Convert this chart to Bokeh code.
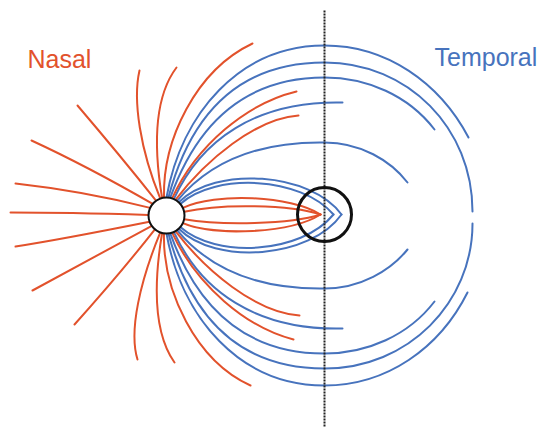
from bokeh.plotting import figure
from bokeh.models import Range1d, ColumnDataSource
from bokeh.core.properties import value
from bokeh.embed import file_html
from bokeh.resources import INLINE

# ---- data (image-pixel coordinates; y grows downward) ----
# each fiber segment: (x0, y0, cx0, cy0, cx1, cy1, x1, y1)
NASAL_LEFT = [
    (163.5, 197.2, 162, 140, 195, 70, 252, 43),
    (161.6, 197.5, 152, 140, 155, 95, 176, 67),
    (159.8, 198.1, 140, 150, 132, 100, 139, 70),
    (155.7, 200.3, 130, 168, 100, 132, 77, 105),
    (152.2, 203.4, 115, 182, 70, 158, 31, 140),
    (149.7, 207.4, 105, 196, 60, 188, 15, 183),
    (148.0, 214.4, 100, 213, 55, 212, 10, 212),
    (149.1, 221.2, 105, 230, 60, 239, 15, 246),
    (151.3, 225.3, 115, 245, 75, 267, 32, 290),
    (154.4, 228.8, 130, 260, 100, 295, 74, 324),
    (159.8, 231.9, 140, 280, 128, 330, 137, 359),
    (161.6, 232.5, 152, 290, 155, 335, 174, 362),
    (163.5, 232.8, 162, 290, 195, 360, 250, 385),
]
NASAL_RIGHT = [
    (171.6, 197.9, 196, 145, 246, 103, 296, 91),
    (175.0, 199.4, 205, 160, 255, 118, 298, 115),
    (182.3, 207.4, 215, 192, 290, 195, 320, 214),
    (183.6, 211.3, 220, 203, 290, 204, 320, 214),
    (183.6, 218.7, 220, 225, 290, 224, 320, 214),
    (182.3, 222.6, 215, 236, 290, 233, 320, 214),
    (175.0, 230.6, 205, 270, 255, 312, 299, 315),
    (171.6, 232.1, 196, 285, 246, 327, 293, 339),
]
TEMPORAL_UPPER = [
    (166.0, 197.0, 181, 113, 239, 45, 324, 45),
    (324, 45, 386, 45, 439, 82, 468, 137),
    (167.9, 197.1, 187, 125, 230, 62, 324, 62),
    (324, 62, 408, 62, 472, 128, 472, 211),
    (169.7, 197.4, 192, 135, 235, 77, 324, 77),
    (324, 77, 366.5, 77, 408, 95, 434, 129),
    (173.3, 198.6, 200, 140, 255, 100, 342, 102),
    (176.6, 200.4, 210, 160, 260, 141, 324, 142),
    (324, 142, 360, 142, 390, 160, 407, 182),
    (178.3, 201.8, 215, 165, 310, 172, 341, 214),
    (179.8, 203.4, 215, 172, 300, 176, 333, 214),
]
TEMPORAL_LOWER = [
    (179.8, 226.6, 215, 258, 300, 254, 333, 214),
    (178.3, 228.2, 215, 265, 310, 258, 341, 214),
    (176.6, 229.6, 210, 270, 260, 289, 324, 288),
    (324, 288, 360, 288, 390, 270, 407, 249),
    (173.3, 231.4, 200, 290, 255, 330, 342, 328),
    (169.7, 232.6, 192, 295, 235, 353, 324, 353),
    (324, 353, 366.5, 353, 408, 335, 434, 301),
    (167.9, 232.9, 187, 305, 230, 368, 324, 368),
    (324, 368, 408, 368, 472, 302, 472, 223),
    (166.0, 233.0, 181, 317, 239, 385, 324, 385),
    (324, 385, 386, 385, 439, 348, 467, 292),
]
DISC = (166, 215, 18)      # optic disc centre x, y, radius
FOVEA = (324, 214, 27)     # fovea centre x, y, radius
RAPHE_X = 324
RAPHE_Y = (10, 427)
LABELS = ["Nasal", "Temporal"]
LABEL_X = [27, 434]
LABEL_Y = [58, 56]

RED = "#e2522c"
BLUE = "#4773bd"


def seg_source(segs):
    cols = ["x0", "y0", "cx0", "cy0", "cx1", "cy1", "x1", "y1"]
    return ColumnDataSource({c: [s[i] for s in segs] for i, c in enumerate(cols)})


p = figure(width=543, height=427, x_range=Range1d(0, 543), y_range=Range1d(427, 0),
           output_backend="svg", toolbar_location=None, min_border=0)
p.axis.visible = False
p.grid.visible = False
p.outline_line_color = None
p.background_fill_color = "white"
p.border_fill_color = "white"

for segs, col in [(TEMPORAL_UPPER, BLUE), (TEMPORAL_LOWER, BLUE),
                  (NASAL_LEFT, RED), (NASAL_RIGHT, RED)]:
    p.bezier(x0="x0", y0="y0", x1="x1", y1="y1", cx0="cx0", cy0="cy0",
             cx1="cx1", cy1="cy1", source=seg_source(segs),
             line_color=col, line_width=2, line_cap="round")

p.line(x=[RAPHE_X, RAPHE_X], y=list(RAPHE_Y), line_color="#222222",
       line_width=2, line_dash="2 1")

p.circle(x=[DISC[0]], y=[DISC[1]], radius=DISC[2], fill_color="white",
         line_color="#111111", line_width=2)
p.circle(x=[FOVEA[0]], y=[FOVEA[1]], radius=FOVEA[2], fill_color=None,
         line_color="#111111", line_width=3)

p.text(x=[LABEL_X[0]], y=[LABEL_Y[0]], text=[LABELS[0]], text_color=RED,
       text_font=value("Liberation Sans"), text_font_size="25px",
       text_baseline="alphabetic")
p.text(x=[LABEL_X[1]], y=[LABEL_Y[1]], text=[LABELS[1]], text_color=BLUE,
       text_font=value("Liberation Sans"), text_font_size="25px",
       text_baseline="alphabetic")

open("out.html", "w").write(file_html(p, INLINE))
